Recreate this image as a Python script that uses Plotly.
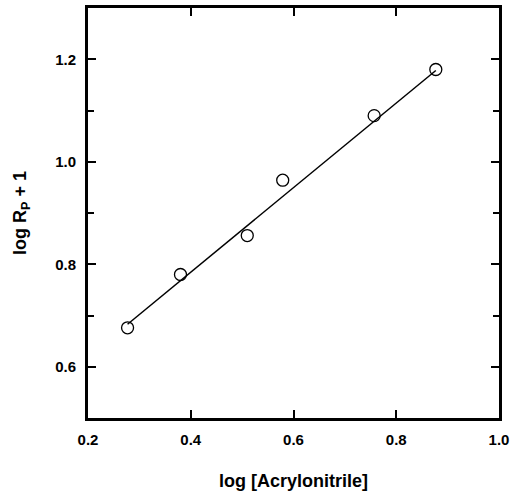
import plotly.graph_objects as go

# Data
log_acrylonitrile = [0.277, 0.380, 0.510, 0.579, 0.757, 0.877]
log_rp_plus_1 = [0.676, 0.780, 0.856, 0.964, 1.090, 1.180]

fit_x = [0.277, 0.877]
fit_y = [0.683, 1.178]

x_tickvals = [0.2, 0.4, 0.6, 0.8, 1.0]
x_ticktext = ["0.2", "0.4", "0.6", "0.8", "1.0"]
y_tickvals = [0.6, 0.8, 1.0, 1.2]
y_ticktext = ["0.6", "0.8", "1.0", "1.2"]

fig = go.Figure()
fig.add_trace(go.Scatter(x=fit_x, y=fit_y, mode="lines",
                         line=dict(color="black", width=1.5), showlegend=False))
fig.add_trace(go.Scatter(x=log_acrylonitrile, y=log_rp_plus_1, mode="markers",
                         marker=dict(symbol="circle-open", size=12, color="black",
                                     line=dict(width=1.3, color="black")),
                         showlegend=False))

font_family = "Liberation Sans, Arial, sans-serif"
fig.update_layout(
    width=522, height=497,
    margin=dict(l=88, r=23, t=5, b=79),
    paper_bgcolor="white", plot_bgcolor="white",
    font=dict(family=font_family, color="black"),
    xaxis=dict(range=[0.2, 1.0], tickvals=x_tickvals, ticktext=x_ticktext,
               ticks="inside", ticklen=8, tickwidth=1.5, tickcolor="black",
               showline=True, linewidth=3, linecolor="black", mirror="allticks",
               showgrid=False, zeroline=False,
               tickfont=dict(size=15, family=font_family, color="black", weight="bold"),
               ticklabelstandoff=6,
               title=dict(text="<b>log [Acrylonitrile]</b>", font=dict(size=18), standoff=28)),
    yaxis=dict(range=[0.5, 1.3], tickvals=y_tickvals, ticktext=y_ticktext,
               ticks="inside", ticklen=8, tickwidth=1.5, tickcolor="black",
               minor=dict(dtick=0.1, tick0=0.5, ticks="inside", ticklen=6, tickwidth=1.5, tickcolor="black"),
               showline=True, linewidth=3, linecolor="black", mirror="allticks",
               showgrid=False, zeroline=False,
               tickfont=dict(size=15, family=font_family, color="black", weight="bold"),
               ticklabelstandoff=6,
               title=dict(text="<b>log R<sub>P</sub> + 1</b>", font=dict(size=18), standoff=24)),
)

fig.write_html("out.html", config={"displayModeBar": False},
               post_script="document.body.style.margin='0px';")
